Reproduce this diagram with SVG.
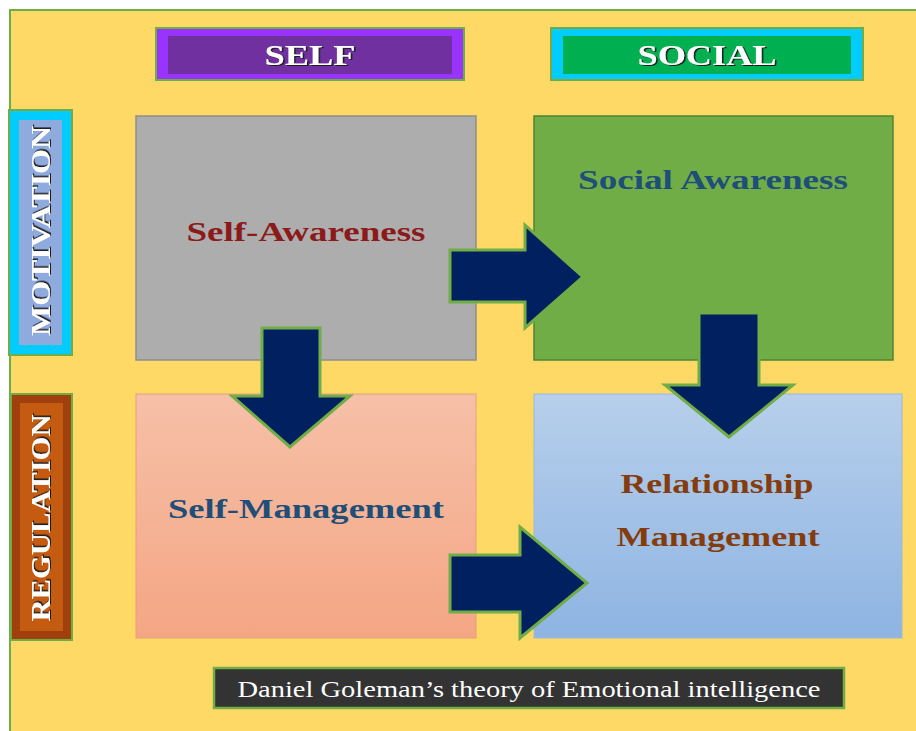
<svg xmlns="http://www.w3.org/2000/svg" width="916" height="731" viewBox="0 0 916 731">
<defs>
<linearGradient id="gPeach" x1="0" y1="0" x2="0" y2="1"><stop offset="0" stop-color="#F6C0A8"/><stop offset="1" stop-color="#F4A684"/></linearGradient>
<linearGradient id="gBlue" x1="0" y1="0" x2="0" y2="1"><stop offset="0" stop-color="#B7CFEB"/><stop offset="1" stop-color="#8EB4E2"/></linearGradient>
<filter id="engrave" x="-10%" y="-20%" width="120%" height="140%">
<feDropShadow dx="1.6" dy="1" stdDeviation="0.3" flood-color="#1e1e1e" flood-opacity="1"/>
</filter>
<style>
.hdr{font-family:"Liberation Serif","Times New Roman",serif;font-weight:bold;text-anchor:middle;fill:#ffffff;filter:url(#engrave)}
.lbl{font-family:"Liberation Serif","Times New Roman",serif;font-weight:bold;font-size:27px;text-anchor:middle}
.arrow{fill:#002060;stroke:#70AD47;stroke-width:3;stroke-linejoin:miter}
</style>
</defs>
<rect x="0" y="0" width="916" height="731" fill="#ffffff"/>
<rect id="background" x="10" y="10" width="910" height="725" fill="#FFD966" stroke="#70AD47" stroke-width="2"/>

<g id="self-header">
<rect x="156" y="28" width="308" height="52" fill="#9933FF" stroke="#70AD47" stroke-width="2"/>
<rect x="168" y="36" width="284" height="38" fill="#7030A0"/>
<text class="hdr" x="310" y="65" font-size="29" textLength="91" lengthAdjust="spacingAndGlyphs">SELF</text>
</g>
<g id="social-header">
<rect x="551" y="28" width="312" height="52" fill="#00CCFF" stroke="#70AD47" stroke-width="2"/>
<rect x="563" y="36" width="288" height="38" fill="#00B050"/>
<text class="hdr" x="707" y="65" font-size="29" textLength="139" lengthAdjust="spacingAndGlyphs">SOCIAL</text>
</g>
<g id="motivation-header">
<rect x="9" y="110" width="63" height="245" fill="#00CCFF" stroke="#70AD47" stroke-width="2"/>
<rect x="19" y="120" width="43" height="225" fill="#8FAADC"/>
<text class="hdr" transform="translate(50,231) rotate(-90)" x="0" y="0" font-size="27" textLength="210" lengthAdjust="spacingAndGlyphs">MOTIVATION</text>
</g>
<g id="regulation-header">
<rect x="11" y="394" width="61" height="246" fill="#A0410D" stroke="#70AD47" stroke-width="2"/>
<rect x="20" y="403" width="43" height="228" fill="#C55A11"/>
<text class="hdr" transform="translate(50,518) rotate(-90)" x="0" y="0" font-size="27" textLength="207" lengthAdjust="spacingAndGlyphs">REGULATION</text>
</g>

<g id="self-awareness">
<rect x="136" y="116" width="340" height="244" fill="#ADADAD" stroke="#8E8E8E" stroke-width="1.5"/>
<text class="lbl" x="306" y="241" fill="#8B1A1A" textLength="239" lengthAdjust="spacingAndGlyphs">Self-Awareness</text>
</g>
<g id="social-awareness">
<rect x="534" y="116" width="359" height="244" fill="#70AD47" stroke="#548235" stroke-width="1.5"/>
<text class="lbl" x="713" y="189" fill="#1F4E79" textLength="270" lengthAdjust="spacingAndGlyphs">Social Awareness</text>
</g>
<g id="self-management">
<rect x="136" y="394" width="340" height="244" fill="url(#gPeach)" stroke="#E8A07A" stroke-width="1"/>
<text class="lbl" x="306" y="518" fill="#1F4E79" textLength="276" lengthAdjust="spacingAndGlyphs">Self-Management</text>
</g>
<g id="relationship-management">
<rect x="534" y="394" width="368" height="244" fill="url(#gBlue)" stroke="#9DB8D8" stroke-width="1"/>
<text class="lbl" x="717" y="493" fill="#843C0C" textLength="193" lengthAdjust="spacingAndGlyphs">Relationship</text>
<text class="lbl" x="718" y="546" fill="#843C0C" textLength="203" lengthAdjust="spacingAndGlyphs">Management</text>
</g>

<g id="connectors">
<polygon class="arrow" points="450,250 525,250 525,225 583,277 525,328 525,302 450,302"/>
<polygon class="arrow" points="450,555 520,555 520,527 587,583 520,638 520,612 450,612"/>
<polygon class="arrow" points="262,328 320,328 320,396 350,396 290,447 232,396 262,396"/>
<polygon class="arrow" points="699,313 759,313 759,385 793,385 729,437 665,385 699,385"/>
</g>

<g id="caption">
<rect x="214" y="668" width="630" height="40" fill="#333333" stroke="#70AD47" stroke-width="2.5"/>
<text x="529" y="697" font-family="'Liberation Serif','Times New Roman',serif" font-size="24" fill="#ffffff" text-anchor="middle" textLength="583" lengthAdjust="spacingAndGlyphs">Daniel Goleman’s theory of Emotional intelligence</text>
</g>
</svg>
